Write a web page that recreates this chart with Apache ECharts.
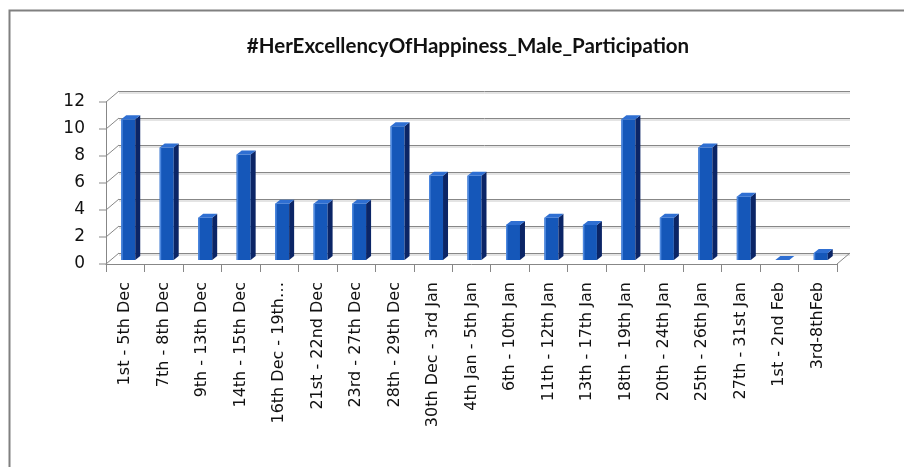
<!doctype html>
<html>
<head>
<meta charset="UTF-8">
<title>Male Participation</title>
<script src="https://cdn.jsdelivr.net/npm/echarts@6/dist/echarts.min.js"></script>
<style>
  html, body { margin: 0; padding: 0; background: #fff; }
  #main { width: 904px; height: 467px; }
</style>
</head>
<body>
<div id="main"></div>
<script>
// data (percent of participants per week)
var weeks = ['1st - 5th Dec', '7th - 8th Dec', '9th - 13th Dec', '14th - 15th Dec', '16th Dec - 19th\u2026',
  '21st - 22nd Dec', '23rd - 27th Dec', '28th - 29th Dec', '30th Dec - 3rd Jan', '4th Jan - 5th Jan',
  '6th - 10th Jan', '11th - 12th Jan', '13th - 17th Jan', '18th - 19th Jan', '20th - 24th Jan',
  '25th - 26th Jan', '27th - 31st Jan', '1st - 2nd Feb', '3rd-8thFeb'];
var male = [10.42, 8.33, 3.13, 7.81, 4.17, 4.17, 4.17, 9.9, 6.25, 6.25,
  2.6, 3.13, 2.6, 10.42, 3.13, 8.33, 4.69, 0, 0.52];
var yTicks = [0, 2, 4, 6, 8, 10, 12];

var chart = echarts.init(document.getElementById('main'));
var LABEL_FONT = 'DejaVu Sans';
var lineGray = '#878787';

// oblique offset of the back wall
var DX = 13, DY = 11;

function renderBar(params, api) {
  var i = api.value(0);
  var top = api.coord([i, api.value(1)]);
  var base = api.coord([i, 0]);
  var w = 14, dx = 5, dy = 4;
  var x0 = top[0] - 4, x1 = x0 + w;
  var yb = base[1] - 4, yt = top[1] - 4;
  return {
    type: 'group',
    children: [
      { type: 'rect', shape: { x: x0, y: yt, width: w, height: yb - yt },
        style: { fill: '#1557b9' } },
      { type: 'rect', shape: { x: x0, y: yt, width: 1.5, height: yb - yt },
        style: { fill: '#4d88df' } },
      { type: 'polygon', shape: { points: [[x1, yt], [x1 + dx, yt - dy], [x1 + dx, yb - dy], [x1, yb]] },
        style: { fill: '#0b2566' } },
      { type: 'polygon', shape: { points: [[x0, yt], [x0 + dx, yt - dy], [x1 + dx, yt - dy], [x1, yt]] },
        style: { fill: '#2f6fd2' } }
    ]
  };
}

// little depth lines from the front axis to the back wall + floor right edge
function renderDepth(params, api) {
  var cs = params.coordSys;
  var v = api.value(0);
  var y = api.coord([0, v])[1];
  var kids = [
    { type: 'line', shape: { x1: cs.x - 7, y1: y, x2: cs.x, y2: y }, style: { stroke: lineGray, lineWidth: 1 } },
    { type: 'line', shape: { x1: cs.x, y1: y, x2: cs.x + DX, y2: y - DY }, style: { stroke: lineGray, lineWidth: 1 } }
  ];
  if (v === 0) {
    kids.push({ type: 'line', shape: { x1: cs.x + cs.width, y1: y, x2: cs.x + cs.width + DX, y2: y - DY },
      style: { stroke: lineGray, lineWidth: 1 } });
  }
  return { type: 'group', children: kids };
}

var barData = male.map(function (v, i) { return [i, v]; });
var depthData = yTicks.map(function (t) { return [t]; });

var gridFront = { left: 106, right: 67, top: 102, bottom: 203 };
var gridBack = { left: 106 + DX, right: 67 - DX, top: 102 - DY, bottom: 203 + DY };

var option = {
  backgroundColor: '#fff',
  animation: false,
  title: {
    text: '#HerExcellencyOfHappiness_Male_Participation',
    left: 463, top: 31, textAlign: 'center',
    textStyle: { fontFamily: 'Lato', fontSize: 20.5, fontWeight: 'bold', color: '#111' }
  },
  graphic: [{
    type: 'rect', left: 7, top: 8, silent: true,
    shape: { width: 1000, height: 1000 },
    style: { fill: 'none', stroke: '#808080', lineWidth: 2 }
  }],
  grid: [gridBack, gridFront],
  xAxis: [
    { gridIndex: 0, type: 'category', data: weeks, show: false },
    {
      gridIndex: 1, type: 'category', data: weeks,
      axisLine: { lineStyle: { color: lineGray, width: 1 } },
      axisTick: { show: true, length: 8, lineStyle: { color: lineGray } },
      axisLabel: { rotate: 90, interval: 0, margin: 18, color: '#111', fontFamily: LABEL_FONT, fontSize: 16 }
    }
  ],
  yAxis: [
    {
      gridIndex: 0, type: 'value', min: 0, max: 12, interval: 2,
      axisLine: { show: false }, axisTick: { show: false }, axisLabel: { show: false },
      splitLine: { lineStyle: { color: lineGray, width: 1, shadowColor: '#c9c9c9', shadowOffsetY: 1.5, shadowBlur: 0 } }
    },
    {
      gridIndex: 1, type: 'value', min: 0, max: 12, interval: 2,
      axisLine: { show: true, lineStyle: { color: lineGray, width: 1 } },
      axisTick: { show: false },
      splitLine: { show: false },
      axisLabel: { margin: 21, color: '#111', fontFamily: LABEL_FONT, fontSize: 17 }
    }
  ],
  series: [
    {
      type: 'custom', xAxisIndex: 1, yAxisIndex: 1,
      renderItem: renderDepth, data: depthData, silent: true, z: 1,
      encode: { y: 0 }
    },
    {
      name: 'Male', type: 'custom', xAxisIndex: 1, yAxisIndex: 1,
      renderItem: renderBar, data: barData, z: 3,
      encode: { x: 0, y: 1 }
    }
  ]
};
chart.setOption(option);
</script>
</body>
</html>
